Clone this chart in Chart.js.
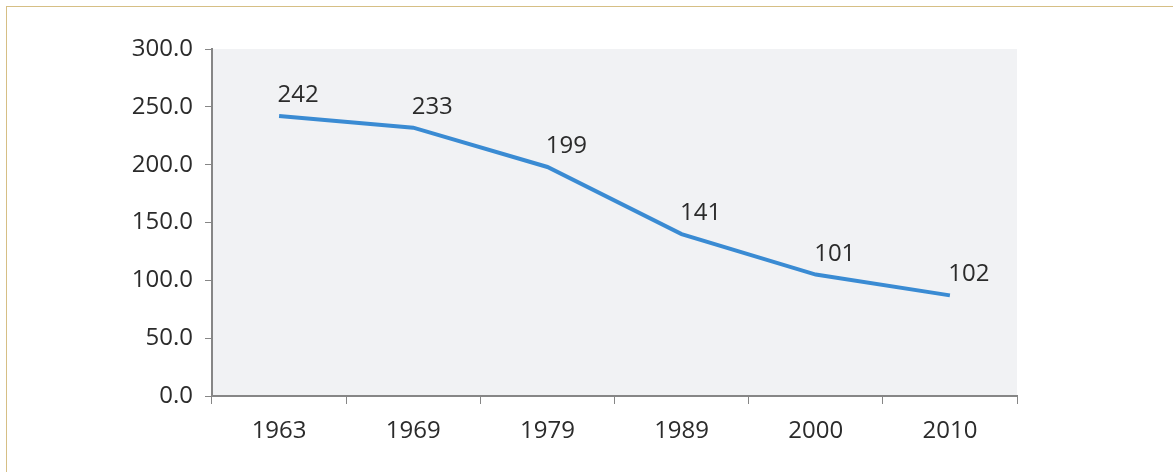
<!DOCTYPE html>
<html>
<head>
<meta charset="utf-8">
<script src="https://cdn.jsdelivr.net/npm/chart.js@4"></script>
<style>
    html, body { margin: 0; padding: 0; background: #fff; }
    #wrap {
        position: relative;
        width: 1173px;
        height: 472px;
        overflow: hidden;
    }
    #frame {
        position: absolute;
        left: 6px;
        top: 6px;
        width: 1200px;
        height: 500px;
        border-left: 1px solid #d6bf85;
        border-top: 1px solid #d6bf85;
    }
    #myChart { position: absolute; left: 0; top: 0; }
</style>
</head>
<body>
<div id="wrap">
    <div id="frame"></div>
    <canvas id="myChart" width="1173" height="472"></canvas>
</div>
<script>
var years = ['1963', '1969', '1979', '1989', '2000', '2010'];
var values = [242, 232, 198, 140, 105, 87];
var pointLabels = ['242', '233', '199', '141', '101', '102'];
var yTicks = [0, 50, 100, 150, 200, 250, 300];

document.addEventListener('DOMContentLoaded', function() {
    var ctx = document.getElementById('myChart');

    // серый фон области графика
    var plotBg = {
        id: 'plotBg',
        beforeDraw: function(chart) {
            var a = chart.chartArea;
            var c = chart.ctx;
            c.save();
            c.fillStyle = '#f1f2f4';
            c.fillRect(a.left, a.top, a.right - a.left, a.bottom - a.top);
            c.restore();
        }
    };

    // подписи значений над точками
    var valueLabels = {
        id: 'valueLabels',
        afterDatasetsDraw: function(chart) {
            var c = chart.ctx;
            var meta = chart.getDatasetMeta(0);
            c.save();
            c.font = '24px "Open Sans"';
            c.fillStyle = '#2b2b2b';
            c.textAlign = 'center';
            c.textBaseline = 'alphabetic';
            meta.data.forEach(function(pt, i) {
                c.fillText(pointLabels[i], pt.x + 19, pt.y - 14);
            });
            c.restore();
        }
    };

    var tickFont = { family: 'Open Sans', size: 24 };

    new Chart(ctx.getContext('2d'), {
        type: 'line',
        data: {
            labels: years,
            datasets: [{
                data: values,
                borderColor: '#3a8bd3',
                borderWidth: 4,
                pointRadius: 0,
                pointHoverRadius: 0,
                tension: 0,
                fill: false
            }]
        },
        options: {
            responsive: false,
            animation: false,
            events: [],
            layout: { padding: { left: 0, top: 49, right: 156, bottom: 0 } },
            plugins: {
                legend: { display: false },
                tooltip: { enabled: false }
            },
            scales: {
                x: {
                    offset: true,
                    grid: {
                        display: true,
                        offset: true,
                        drawOnChartArea: false,
                        drawTicks: true,
                        tickLength: 8,
                        color: '#868686'
                    },
                    border: { display: true, color: '#868686', width: 2 },
                    ticks: {
                        color: '#2b2b2b',
                        font: tickFont,
                        padding: 13,
                        maxRotation: 0
                    },
                    afterFit: function(scale) { scale.height = 76; }
                },
                y: {
                    min: 0,
                    max: 300,
                    afterBuildTicks: function(scale) {
                        scale.ticks = yTicks.map(function(v) { return { value: v }; });
                    },
                    grid: {
                        display: true,
                        drawOnChartArea: false,
                        drawTicks: true,
                        tickLength: 7,
                        color: '#868686'
                    },
                    border: { display: true, color: '#868686', width: 2 },
                    ticks: {
                        color: '#2b2b2b',
                        font: tickFont,
                        padding: 12,
                        callback: function(v) { return Number(v).toFixed(1); }
                    },
                    afterFit: function(scale) { scale.width = 212; }
                }
            }
        },
        plugins: [plotBg, valueLabels]
    });
});
</script>
</body>
</html>
